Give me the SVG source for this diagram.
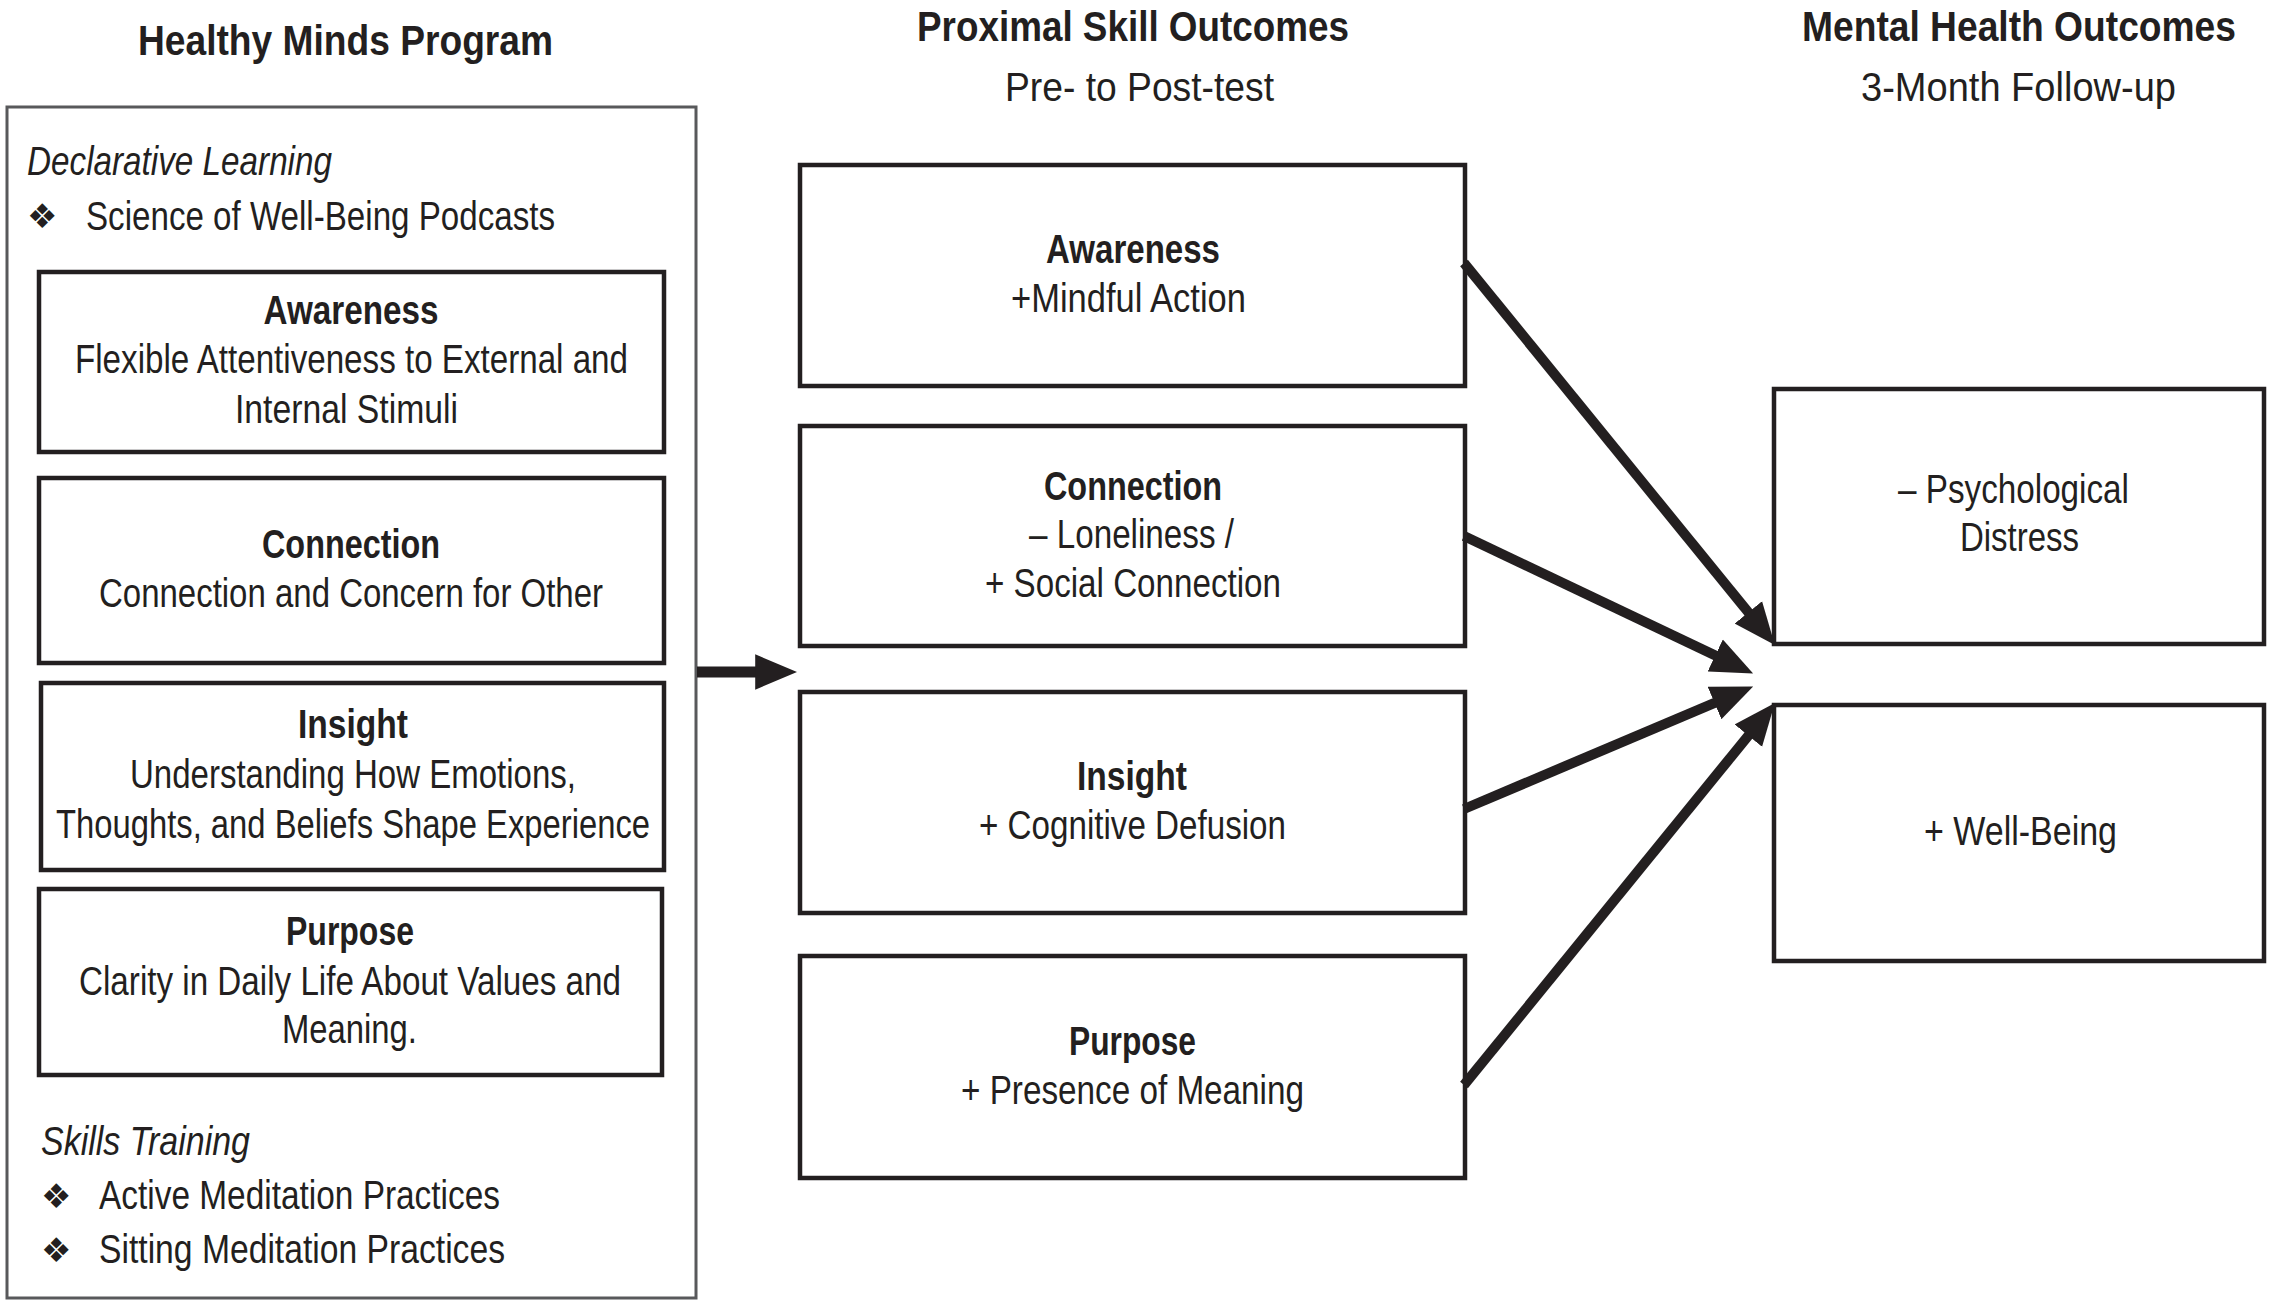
<svg xmlns="http://www.w3.org/2000/svg" width="2271" height="1307" viewBox="0 0 2271 1307">
<style>
text{font-family:'Liberation Sans Narrow','Liberation Sans',Arial,sans-serif;fill:#231f20;}
.h{font-size:43px;font-weight:bold;text-anchor:middle;}
.h2{font-size:42px;font-weight:bold;text-anchor:middle;}
.h3{font-size:42px;font-weight:bold;text-anchor:end;}
.sh{font-size:41px;text-anchor:middle;}
.t{font-size:40px;font-weight:bold;text-anchor:middle;}
.b{font-size:40px;text-anchor:middle;}
.l{font-size:40px;}
.i{font-size:40px;font-style:italic;}
.bul{font-family:'DejaVu Sans',sans-serif;font-size:34px;}
.box{fill:#fff;stroke:#231f20;stroke-width:4.5;}
.outer{fill:#fff;stroke:#58595b;stroke-width:3;}
.arr{stroke:#231f20;stroke-width:10;fill:none;marker-end:url(#ah);}
</style>
<defs>
<marker id="ah" markerUnits="userSpaceOnUse" markerWidth="42" markerHeight="36" viewBox="0 0 38 32" refX="17" refY="16" orient="auto">
<path d="M0,0 L38,16 L0,32 Z" fill="#231f20"/>
</marker>
</defs>
<rect width="2271" height="1307" fill="#fff"/>

<g id="headers">
<text class="h" x="345.5" y="55" textLength="415" lengthAdjust="spacingAndGlyphs">Healthy Minds Program</text>
<text class="h2" x="1133" y="41" textLength="432" lengthAdjust="spacingAndGlyphs">Proximal Skill Outcomes</text>
<text class="sh" x="1139.5" y="101" textLength="269" lengthAdjust="spacingAndGlyphs">Pre- to Post-test</text>
<text class="h3" x="2236" y="41" textLength="434" lengthAdjust="spacingAndGlyphs">Mental Health Outcomes</text>
<text class="sh" x="2018.5" y="101" textLength="315" lengthAdjust="spacingAndGlyphs">3-Month Follow-up</text>
</g>

<g id="program">
<rect class="outer" x="7" y="107" width="689" height="1191"/>
<text class="i" x="27" y="175" textLength="305" lengthAdjust="spacingAndGlyphs">Declarative Learning</text>
<text class="bul" x="27" y="228">❖</text>
<text class="l" x="86" y="230" textLength="469" lengthAdjust="spacingAndGlyphs">Science of Well-Being Podcasts</text>
<text class="i" x="41" y="1155" textLength="209" lengthAdjust="spacingAndGlyphs">Skills Training</text>
<text class="bul" x="41" y="1208">❖</text>
<text class="l" x="99" y="1209" textLength="401" lengthAdjust="spacingAndGlyphs">Active Meditation Practices</text>
<text class="bul" x="41" y="1262">❖</text>
<text class="l" x="99" y="1263" textLength="406" lengthAdjust="spacingAndGlyphs">Sitting Meditation Practices</text>
</g>

<g id="prog-awareness">
<rect class="box" x="39" y="272" width="625" height="180"/>
<text class="t" x="351" y="324" textLength="175" lengthAdjust="spacingAndGlyphs">Awareness</text>
<text class="b" x="351.5" y="373" textLength="553" lengthAdjust="spacingAndGlyphs">Flexible Attentiveness to External and</text>
<text class="b" x="346.5" y="423" textLength="223" lengthAdjust="spacingAndGlyphs">Internal Stimuli</text>
</g>
<g id="prog-connection">
<rect class="box" x="39" y="478" width="625" height="185"/>
<text class="t" x="351" y="558" textLength="178" lengthAdjust="spacingAndGlyphs">Connection</text>
<text class="b" x="351" y="607" textLength="504" lengthAdjust="spacingAndGlyphs">Connection and Concern for Other</text>
</g>
<g id="prog-insight">
<rect class="box" x="41" y="683" width="623" height="187"/>
<text class="t" x="353" y="738" textLength="110" lengthAdjust="spacingAndGlyphs">Insight</text>
<text class="b" x="353" y="788" textLength="446" lengthAdjust="spacingAndGlyphs">Understanding How Emotions,</text>
<text class="b" x="353" y="838" textLength="594" lengthAdjust="spacingAndGlyphs">Thoughts, and Beliefs Shape Experience</text>
</g>
<g id="prog-purpose">
<rect class="box" x="39" y="889" width="623" height="186"/>
<text class="t" x="350" y="945" textLength="128" lengthAdjust="spacingAndGlyphs">Purpose</text>
<text class="b" x="350" y="995" textLength="542" lengthAdjust="spacingAndGlyphs">Clarity in Daily Life About Values and</text>
<text class="b" x="349.5" y="1043" textLength="135" lengthAdjust="spacingAndGlyphs">Meaning.</text>
</g>

<g id="skill-awareness">
<rect class="box" x="800" y="165" width="665" height="221"/>
<text class="t" x="1133" y="263" textLength="174" lengthAdjust="spacingAndGlyphs">Awareness</text>
<text class="b" x="1128.5" y="312" textLength="235" lengthAdjust="spacingAndGlyphs">+Mindful Action</text>
</g>
<g id="skill-connection">
<rect class="box" x="800" y="426" width="665" height="220"/>
<text class="t" x="1133" y="500" textLength="178" lengthAdjust="spacingAndGlyphs">Connection</text>
<text class="b" x="1131.5" y="548" textLength="205" lengthAdjust="spacingAndGlyphs">– Loneliness /</text>
<text class="b" x="1133" y="597" textLength="296" lengthAdjust="spacingAndGlyphs">+ Social Connection</text>
</g>
<g id="skill-insight">
<rect class="box" x="800" y="692" width="665" height="221"/>
<text class="t" x="1132" y="790" textLength="110" lengthAdjust="spacingAndGlyphs">Insight</text>
<text class="b" x="1132.5" y="839" textLength="307" lengthAdjust="spacingAndGlyphs">+ Cognitive Defusion</text>
</g>
<g id="skill-purpose">
<rect class="box" x="800" y="956" width="665" height="222"/>
<text class="t" x="1132.5" y="1055" textLength="127" lengthAdjust="spacingAndGlyphs">Purpose</text>
<text class="b" x="1132.5" y="1104" textLength="343" lengthAdjust="spacingAndGlyphs">+ Presence of Meaning</text>
</g>

<g id="outcome-distress">
<rect class="box" x="1774" y="389" width="490" height="255"/>
<text class="b" x="2013.5" y="503" textLength="231" lengthAdjust="spacingAndGlyphs">– Psychological</text>
<text class="b" x="2019.5" y="551" textLength="119" lengthAdjust="spacingAndGlyphs">Distress</text>
</g>
<g id="outcome-wellbeing">
<rect class="box" x="1774" y="705" width="490" height="256"/>
<text class="b" x="2020.5" y="845" textLength="193" lengthAdjust="spacingAndGlyphs">+ Well-Being</text>
</g>

<g id="connectors">
<line class="arr" x1="697" y1="672" x2="774" y2="672" style="stroke-width:11"/>
<line class="arr" x1="1464" y1="263" x2="1760.2" y2="626.9"/>
<line class="arr" x1="1464" y1="536" x2="1732.2" y2="663.5"/>
<line class="arr" x1="1464" y1="809" x2="1731.8" y2="695.6"/>
<line class="arr" x1="1464" y1="1085" x2="1760.2" y2="721.1"/>
</g>
</svg>
